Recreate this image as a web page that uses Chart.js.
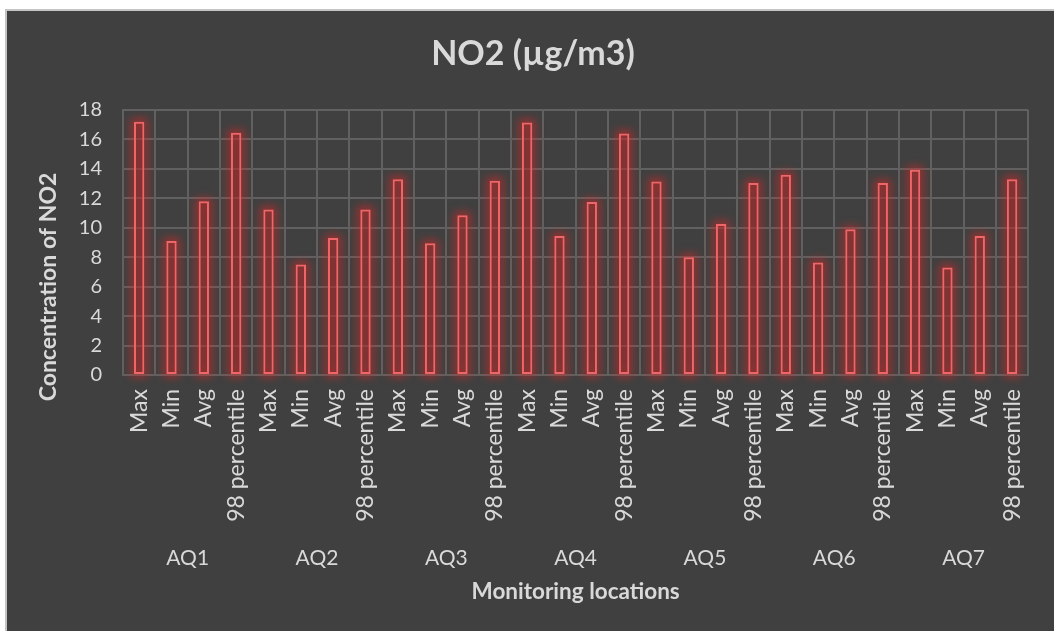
<!DOCTYPE html>
<html>
<head>
<meta charset="utf-8">
<title>NO2 (µg/m3)</title>
<script src="https://cdn.jsdelivr.net/npm/chart.js@4.4.1/dist/chart.umd.min.js"></script>
<style>
  html, body { margin: 0; padding: 0; background: #ffffff; }
  #wrap { position: absolute; left: 0; top: 0; width: 1054px; height: 631px; }
</style>
</head>
<body>
<div id="wrap"><canvas id="chart" width="1054" height="631"></canvas></div>
<script>
// Monitoring locations and the statistics reported for each
const locations = ['AQ1', 'AQ2', 'AQ3', 'AQ4', 'AQ5', 'AQ6', 'AQ7'];
const statistics = ['Max', 'Min', 'Avg', '98 percentile'];

// NO2 concentration (µg/m3) per location: Max, Min, Avg, 98 percentile
const aq1 = [17.2, 9.1, 11.8, 16.45];
const aq2 = [11.25, 7.5, 9.3, 11.25];
const aq3 = [13.3, 8.95, 10.85, 13.2];
const aq4 = [17.15, 9.45, 11.75, 16.4];
const aq5 = [13.15, 8.0, 10.25, 13.05];
const aq6 = [13.6, 7.65, 9.9, 13.05];
const aq7 = [13.95, 7.3, 9.45, 13.3];

// Value axis
const yMin = 0;
const yMax = 18;
const yStep = 2;

const chartTitle = 'NO2 (µg/m3)';
const yTitle = 'Concentration of NO2';
const xTitle = 'Monitoring locations';

const seriesByLocation = [aq1, aq2, aq3, aq4, aq5, aq6, aq7];
const categoryLabels = [];
const concentrations = [];
seriesByLocation.forEach(function (series) {
  statistics.forEach(function (stat, j) {
    categoryLabels.push(stat);
    concentrations.push(series[j]);
  });
});

const TEXT = '#d9d9d9';
const GRID = '#616161';
const FAMILY = 'Lato, "Open Sans", sans-serif';
Chart.defaults.font.family = FAMILY;
Chart.defaults.color = TEXT;

// Dark chart panel with a thin light frame on the top and left
const panelPlugin = {
  id: 'panel',
  beforeDraw(chart) {
    const ctx = chart.ctx;
    ctx.save();
    ctx.fillStyle = '#ffffff';
    ctx.fillRect(0, 0, chart.width, chart.height);
    ctx.fillStyle = '#c4c4c4';
    ctx.fillRect(5, 9, chart.width - 5, chart.height - 9);
    ctx.fillStyle = '#404040';
    ctx.fillRect(7, 11, chart.width - 7, chart.height - 11);
    ctx.restore();
  }
};

// Blurred red halo drawn behind each bar, from the bar geometry the library computed
const glowPlugin = {
  id: 'glow',
  beforeDatasetsDraw(chart) {
    const ctx = chart.ctx;
    const meta = chart.getDatasetMeta(0);
    ctx.save();
    ctx.filter = 'blur(4px)';
    ctx.strokeStyle = 'rgba(230, 35, 35, 0.6)';
    ctx.lineWidth = 6;
    meta.data.forEach(function (bar) {
      const p = bar.getProps(['x', 'y', 'base', 'width'], true);
      ctx.strokeRect(p.x - p.width / 2, p.y, p.width, p.base - p.y);
    });
    ctx.restore();
  }
};

// Chart title and vertical axis title
const titlesPlugin = {
  id: 'titles',
  afterDraw(chart) {
    const ctx = chart.ctx;
    ctx.save();
    ctx.fillStyle = TEXT;
    ctx.textAlign = 'center';
    ctx.textBaseline = 'middle';
    ctx.font = 'bold 34px ' + FAMILY;
    ctx.fillText(chartTitle, 533, 54);
    ctx.translate(49, 287);
    ctx.rotate(-Math.PI / 2);
    ctx.font = 'bold 23px ' + FAMILY;
    ctx.fillText(yTitle, 0, 0);
    ctx.restore();
  }
};

new Chart(document.getElementById('chart'), {
  type: 'bar',
  data: {
    labels: categoryLabels,
    datasets: [{
      label: 'NO2',
      data: concentrations,
      backgroundColor: 'rgba(150, 45, 45, 0.3)',
      borderColor: '#ef6668',
      borderWidth: 2,
      borderSkipped: false,
      categoryPercentage: 1.0,
      barPercentage: 0.32,
      xAxisID: 'x',
      yAxisID: 'y'
    }]
  },
  options: {
    responsive: false,
    devicePixelRatio: 1,
    animation: false,
    layout: { padding: { top: 110, left: 7, right: 17, bottom: 0 } },
    plugins: {
      legend: { display: false },
      tooltip: { enabled: false },
      title: { display: false }
    },
    scales: {
      y: {
        min: yMin,
        max: yMax,
        ticks: {
          stepSize: yStep,
          color: TEXT,
          font: { size: 20 },
          padding: 21
        },
        grid: { color: GRID, lineWidth: 2, drawTicks: false },
        border: { color: GRID, width: 2 },
        afterFit(scale) { scale.width = 116; }
      },
      x: {
        type: 'category',
        position: 'bottom',
        weight: 0,
        offset: true,
        ticks: {
          color: TEXT,
          font: { size: 23 },
          minRotation: 90,
          maxRotation: 90,
          autoSkip: false,
          padding: 14
        },
        grid: { color: GRID, lineWidth: 2, offset: true, drawTicks: false },
        border: { color: GRID, width: 2 },
        afterFit(scale) { scale.height = 155; }
      },
      x2: {
        type: 'category',
        position: 'bottom',
        weight: 1,
        labels: locations,
        offset: true,
        ticks: {
          color: TEXT,
          font: { size: 21 },
          maxRotation: 0,
          autoSkip: false,
          padding: 16
        },
        grid: { display: false, drawTicks: false },
        border: { display: false },
        title: {
          display: true,
          text: xTitle,
          color: TEXT,
          font: { size: 22.5, weight: 'bold' },
          padding: { top: 0, bottom: 26 }
        },
        afterFit(scale) { scale.height = 101; }
      }
    }
  },
  plugins: [panelPlugin, glowPlugin, titlesPlugin]
});
</script>
</body>
</html>
